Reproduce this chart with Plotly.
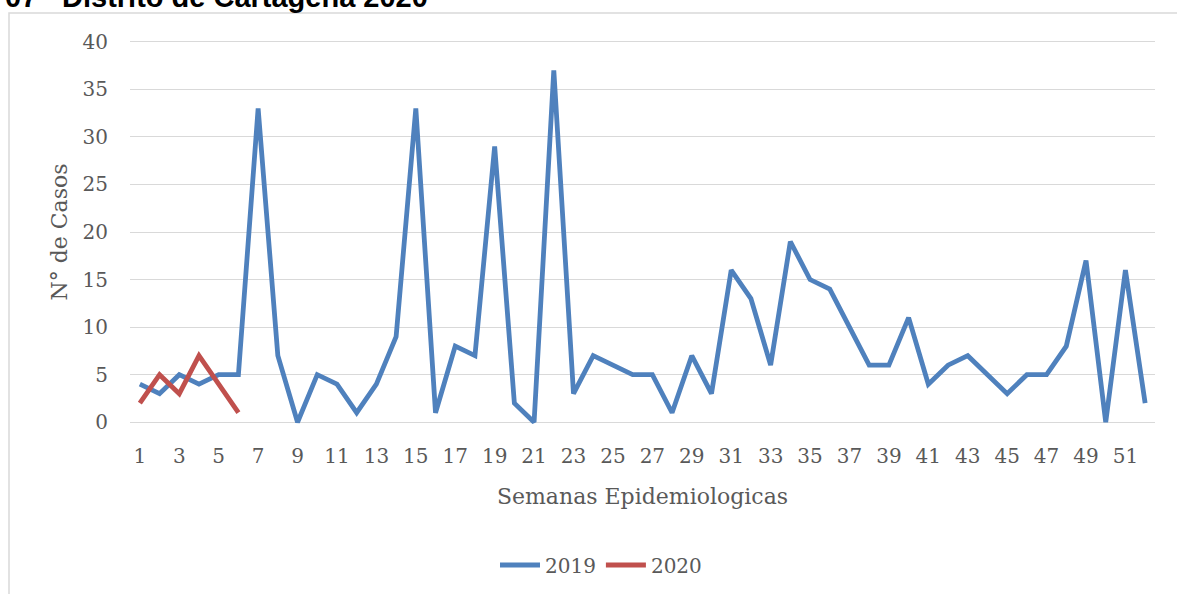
import plotly.graph_objects as go

weeks = list(range(1, 53))
cases_2019 = [4, 3, 5, 4, 5, 5, 33, 7, 0, 5, 4, 1, 4, 9, 33, 1, 8, 7, 29, 2,
              0, 37, 3, 7, 6, 5, 5, 1, 7, 3, 16, 13, 6, 19, 15, 14, 10, 6, 6, 11,
              4, 6, 7, 5, 3, 5, 5, 8, 17, 0, 16, 2]
weeks_2020 = [1, 2, 3, 4, 5, 6]
cases_2020 = [2, 5, 3, 7, 4, 1]
x_tick_vals = list(range(1, 53, 2))
y_tick_vals = list(range(0, 41, 5))

W, H = 1177, 594
L, R, T, B = 130, 22, 37, 167
PW, PH = W - L - R, H - T - B


def px_x(px):
    return (px - L) / PW


def px_y(py):
    return (H - B - py) / PH


TXT = "#595959"
FONT = "DejaVu Serif"

fig = go.Figure()
fig.add_trace(go.Scatter(x=weeks, y=cases_2019, mode="lines", name="2019",
                         line=dict(color="#4F81BD", width=4.8)))
fig.add_trace(go.Scatter(x=weeks_2020, y=cases_2020, mode="lines", name="2020",
                         line=dict(color="#C0504D", width=4.8)))

fig.update_layout(
    width=W, height=H,
    margin=dict(l=L, r=R, t=T, b=B, autoexpand=False),
    paper_bgcolor="white", plot_bgcolor="white",
    font=dict(family=FONT, color=TXT, size=20),
    showlegend=True,
    legend=dict(orientation="h", x=px_x(601), xanchor="center",
                y=px_y(565), yanchor="middle",
                font=dict(family=FONT, size=20, color=TXT),
                itemwidth=40,
                bgcolor="rgba(0,0,0,0)"),
    xaxis=dict(range=[0.5, 52.5], tickmode="array", tickvals=x_tick_vals,
               ticktext=[str(v) for v in x_tick_vals],
               showgrid=False, zeroline=False, showline=False,
               ticks="outside", ticklen=11, tickcolor="rgba(0,0,0,0)",
               tickfont=dict(family=FONT, size=20, color=TXT),
               title=dict(text="Semanas Epidemiologicas",
                          font=dict(family=FONT, size=22, color=TXT),
                          standoff=21)),
    yaxis=dict(range=[-0.5, 40.5], tickmode="array", tickvals=y_tick_vals,
               showgrid=True, gridcolor="#d9d9d9", gridwidth=1.3,
               zeroline=False, showline=False,
               ticks="outside", ticklen=17, tickcolor="rgba(0,0,0,0)",
               tickfont=dict(family=FONT, size=20, color=TXT),
               title=dict(text="N° de Casos",
                          font=dict(family=FONT, size=22, color=TXT),
                          standoff=8)),
    shapes=[dict(type="rect", xref="paper", yref="paper",
                 x0=px_x(9), x1=px_x(1185), y0=px_y(610), y1=px_y(13),
                 line=dict(color="#d9d9d9", width=1.5),
                 fillcolor="rgba(0,0,0,0)", layer="below")],
    annotations=[
        dict(text="<b>07</b>", xref="paper", yref="paper", x=px_x(3),
             y=px_y(15), xanchor="left", yanchor="bottom", showarrow=False,
             font=dict(family="Liberation Sans", size=29, color="black")),
        dict(text="<b>Distrito de Cartagena 2020</b>", xref="paper",
             yref="paper", x=px_x(60), y=px_y(15), xanchor="left",
             yanchor="bottom", showarrow=False,
             font=dict(family="Liberation Sans", size=29, color="black")),
    ],
)

fig.write_html("out.html", config={"displayModeBar": False},
               post_script="document.body.style.margin='0';document.body.style.overflow='hidden';")
